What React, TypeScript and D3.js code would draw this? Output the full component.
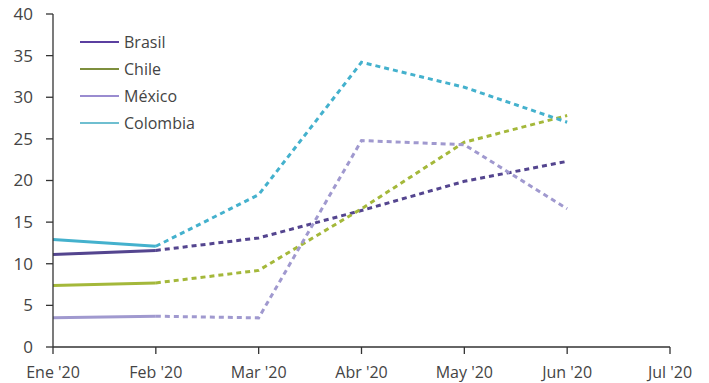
import React from "react";
import * as d3 from "d3";

const months = ["Ene '20", "Feb '20", "Mar '20", "Abr '20", "May '20", "Jun '20", "Jul '20"];
const yTicks = [0, 5, 10, 15, 20, 25, 30, 35, 40];
const seriesNames = ["Brasil", "Chile", "México", "Colombia"];
const brasil = [11.1, 11.6, 13.1, 16.4, 19.9, 22.3];
const chile = [7.4, 7.7, 9.2, 16.6, 24.6, 27.8];
const mexico = [3.5, 3.7, 3.5, 24.8, 24.3, 16.6];
const colombia = [12.9, 12.1, 18.3, 34.2, 31.2, 27.0];
const solidUntil = 1; // index where solid segment ends (Feb)

const lineColors = ["#54458f", "#a4b83a", "#a099cf", "#44b1cd"];
const legendColors = ["#5b3fa0", "#7e8f3d", "#9a8cd0", "#6fbfd0"];

const W = 709, H = 383;
const left = 53, right = 670, top = 14, bottom = 347;

export default function App() {
  const x = d3.scalePoint<string>().domain(months).range([left, right]);
  const y = d3.scaleLinear().domain([0, 40]).range([bottom, top]);
  const data = [brasil, chile, mexico, colombia];
  const line = d3.line<[number, number]>().x(d => x(months[d[0]])!).y(d => y(d[1]));
  const font = "'Open Sans', sans-serif";
  const axisColor = "#333";
  const textColor = "#444";

  return (
    <svg width={W} height={H} style={{ position: "absolute", left: 0, top: 0, background: "#fff" }}>
      {data.map((vals, si) => {
        const pts: [number, number][] = vals.map((v, i) => [i, v]);
        const solid = pts.slice(0, solidUntil + 1);
        const dashed = pts.slice(solidUntil);
        return (
          <g key={si}>
            <path d={line(solid)!} fill="none" stroke={lineColors[si]} strokeWidth={3} />
            <path d={line(dashed)!} fill="none" stroke={lineColors[si]} strokeWidth={3} strokeDasharray="5,4" />
          </g>
        );
      })}
      <line x1={left} x2={left} y1={top} y2={bottom} stroke={axisColor} strokeWidth={1.3} />
      {yTicks.map(t => (
        <g key={t}>
          <line x1={left - 7} x2={left} y1={y(t)} y2={y(t)} stroke={axisColor} strokeWidth={1.3} />
          <text x={left - 20} y={y(t)} dy="0.35em" textAnchor="end" fontFamily={font} fontSize={17} fill={textColor}>{t}</text>
        </g>
      ))}
      <line x1={left} x2={right} y1={bottom} y2={bottom} stroke={axisColor} strokeWidth={1.3} />
      {months.map(m => (
        <g key={m}>
          <line x1={x(m)} x2={x(m)} y1={bottom} y2={bottom + 7} stroke={axisColor} strokeWidth={1.3} />
          <text x={x(m)} y={bottom + 31} textAnchor="middle" fontFamily={font} fontSize={16} fill={textColor}>{m}</text>
        </g>
      ))}
      {seriesNames.map((n, i) => (
        <g key={n} transform={`translate(80, ${42 + i * 27})`}>
          <line x1={0} x2={39} y1={0} y2={0} stroke={legendColors[i]} strokeWidth={2} />
          <text x={44} y={0} dy="0.35em" fontFamily={font} fontSize={16} fill={textColor}>{n}</text>
        </g>
      ))}
    </svg>
  );
}
